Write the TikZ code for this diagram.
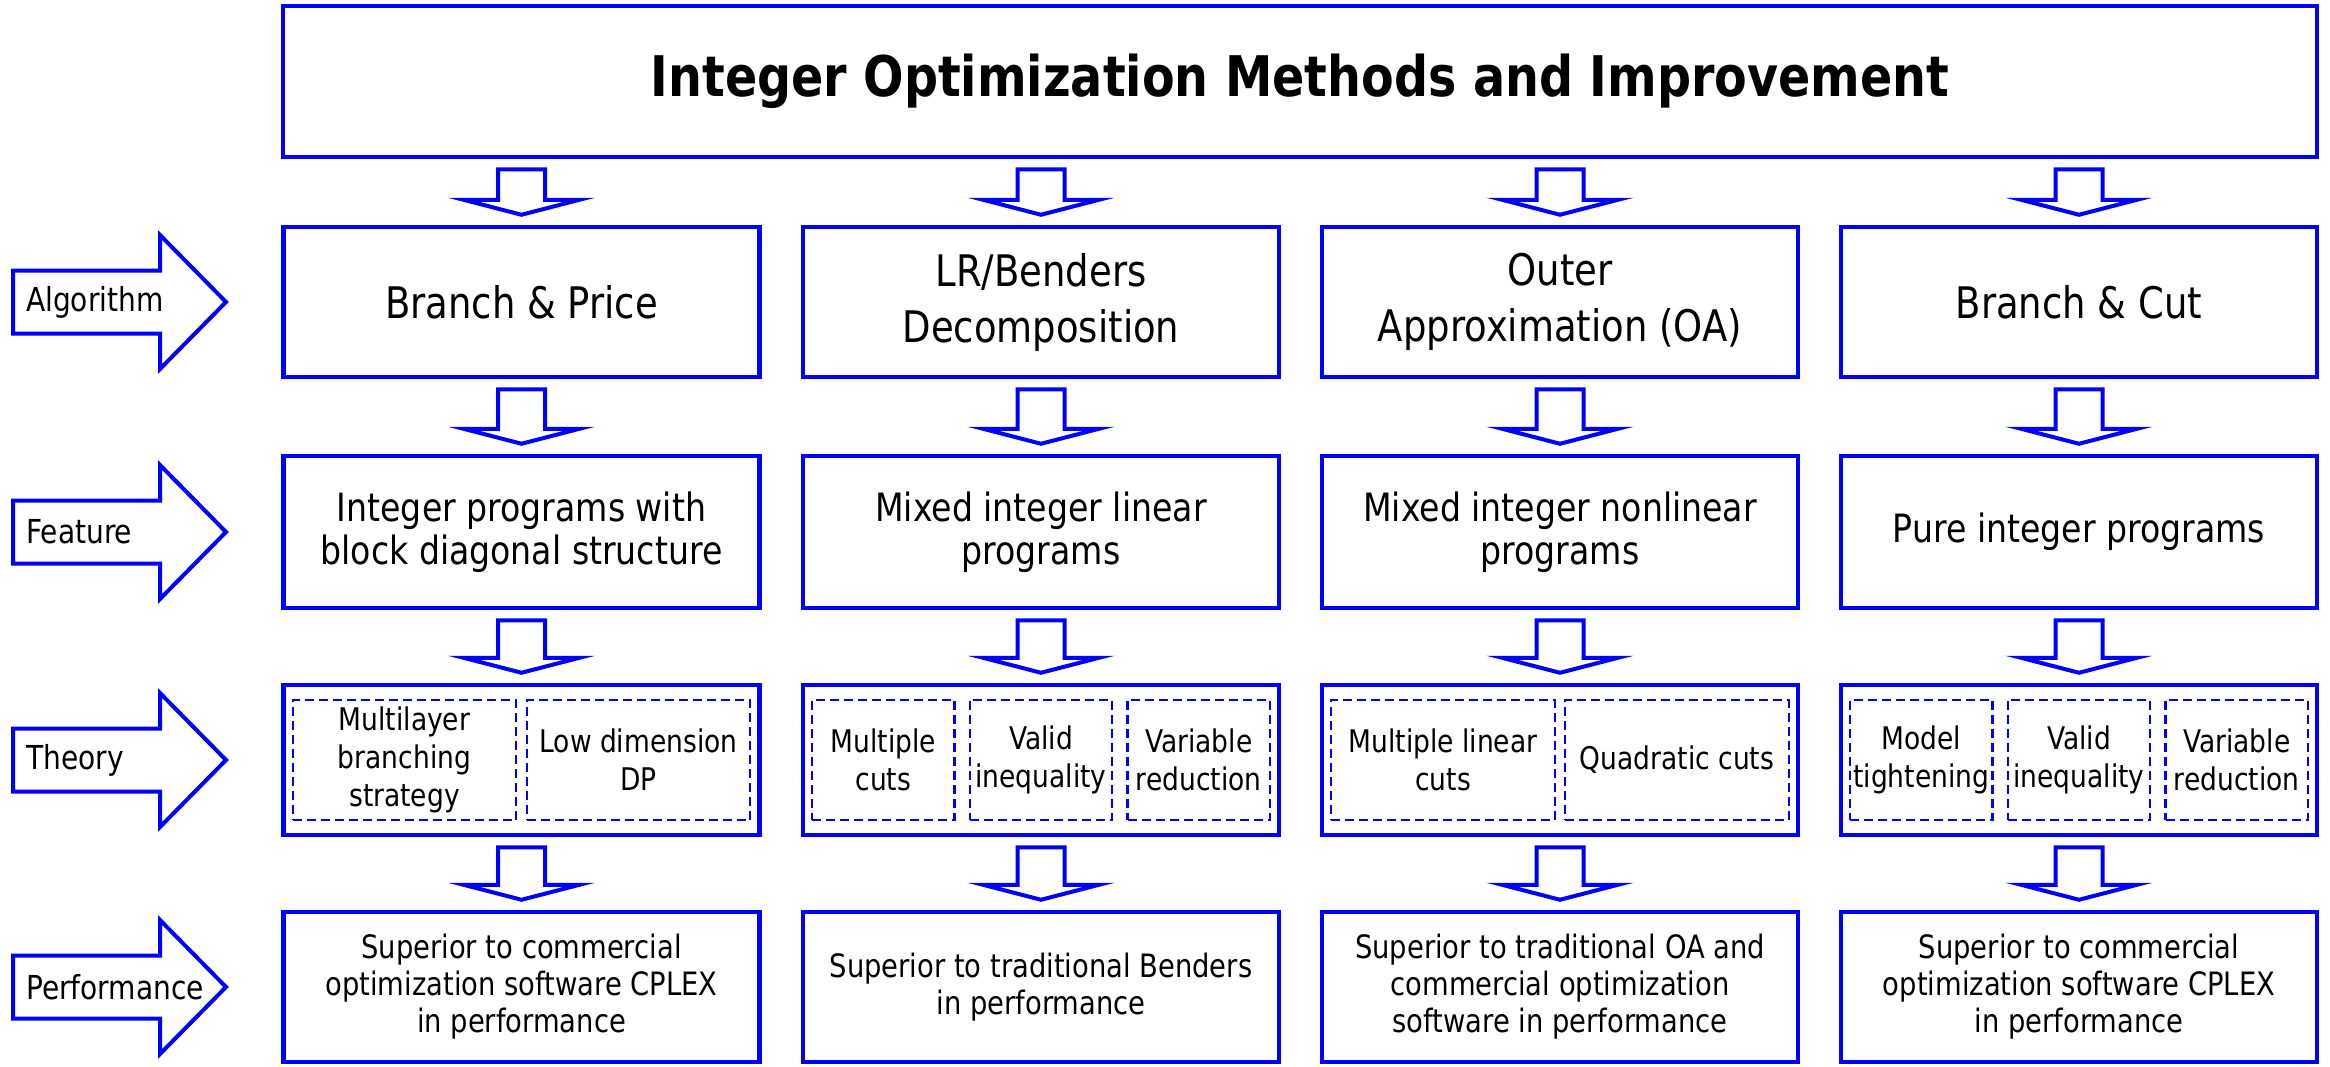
\documentclass[tikz,border=0pt]{standalone}
\usepackage{fontspec}
\setmainfont{DejaVu Sans}[FakeStretch=0.85]
\usetikzlibrary{calc}

\tikzset{
  box/.style={draw=blue, line width=4.5pt, fill=white, align=center, inner sep=0pt,
    minimum width=476pt, minimum height=150pt},
  subbox/.style={draw=blue, line width=2.2pt, dash pattern=on 9pt off 5pt,
    align=center, inner sep=0pt, minimum height=120pt},
  barrow/.style={draw=blue, line width=4pt, fill=white, line join=miter},
  sidelabel/.style={anchor=west, inner sep=0pt, font=\fontsize{33}{38}\selectfont},
  fAlg/.style={font=\fontsize{43.5}{56}\selectfont},
  fFea/.style={font=\fontsize{39}{43.5}\selectfont},
  fThe/.style={font=\fontsize{31.2}{38}\selectfont},
  fPer/.style={font=\fontsize{32.2}{37}\selectfont},
}

% block arrow pointing down from the bottom of #1 to the top of #2
\newcommand\blockdown[2]{%
  \draw[barrow] let \p1=(#1.south), \p2=(#2.north) in
    (\x2-23.5pt,\y1-10pt) -- (\x2+23.5pt,\y1-10pt) -- (\x2+23.5pt,\y2+25pt)
    -- (\x2+58pt,\y2+25pt) -- (\x2,\y2+10pt) -- (\x2-58pt,\y2+25pt)
    -- (\x2-23.5pt,\y2+25pt) -- cycle;}

% wide arrow on the left margin, centred on row height #1
\newcommand\sidearrow[3]{%
  \draw[barrow] (13,#1-31.5) -- (160,#1-31.5) -- (160,#1-67) -- (226,#1)
    -- (160,#1+67) -- (160,#1+31.5) -- (13,#1+31.5) -- cycle;
  \node[sidelabel] (#2) at (26,#1) {#3};}

\begin{document}
\begin{tikzpicture}[x=1pt, y=-1pt]
\useasboundingbox (0,0) rectangle (2330,1066);

% title
\node[box, minimum width=2034pt, minimum height=151pt,
  font=\bfseries\fontsize{56}{62}\selectfont] (title) at (1300,81.5)
  {Integer Optimization Methods and Improvement};

% algorithm row
\node[box, fAlg] (a1) at (521.5,302) {Branch \& Price};
\node[box, fAlg] (a2) at (1041,302) {LR/Benders\\Decomposition};
\node[box, fAlg] (a3) at (1560,302) {Outer\\Approximation (OA)};
\node[box, fAlg] (a4) at (2079,302) {Branch \& Cut};

% feature row
\node[box, fFea, minimum height=152pt] (f1) at (521.5,532) {Integer programs with\\block diagonal structure};
\node[box, fFea, minimum height=152pt] (f2) at (1041,532) {Mixed integer linear\\programs};
\node[box, fFea, minimum height=152pt] (f3) at (1560,532) {Mixed integer nonlinear\\programs};
\node[box, fFea, minimum height=152pt] (f4) at (2079,532) {Pure integer programs};

% theory row
\node[box] (t1) at (521.5,760) {};
\node[box] (t2) at (1041,760) {};
\node[box] (t3) at (1560,760) {};
\node[box] (t4) at (2079,760) {};

\node[subbox, fThe, minimum width=223.5pt] (t1a) at (404.5,760) {Multilayer\\branching\\strategy};
\node[subbox, fThe, minimum width=223.5pt] (t1b) at (638.5,760) {Low dimension\\DP};

\node[subbox, fThe, minimum width=142.3pt] (t2a) at (883.3,760) {Multiple\\cuts};
\node[subbox, fThe, minimum width=142.3pt] (t2b) at (1041,760) {Valid\\inequality};
\node[subbox, fThe, minimum width=142.3pt] (t2c) at (1198.7,760) {Variable\\reduction};

\node[subbox, fThe, minimum width=223.5pt] (t3a) at (1443,760) {Multiple linear\\cuts};
\node[subbox, fThe, minimum width=223.5pt] (t3b) at (1677,760) {Quadratic cuts};

\node[subbox, fThe, minimum width=142.3pt] (t4a) at (1921.3,760) {Model\\tightening};
\node[subbox, fThe, minimum width=142.3pt] (t4b) at (2079,760) {Valid\\inequality};
\node[subbox, fThe, minimum width=142.3pt] (t4c) at (2236.7,760) {Variable\\reduction};

% performance row
\node[box, fPer] (p1) at (521.5,987) {Superior to commercial\\optimization software CPLEX\\in performance};
\node[box, fPer] (p2) at (1041,987) {Superior to traditional Benders\\in performance};
\node[box, fPer] (p3) at (1560,987) {Superior to traditional OA and\\commercial optimization\\software in performance};
\node[box, fPer] (p4) at (2079,987) {Superior to commercial\\optimization software CPLEX\\in performance};

% arrows between rows
\foreach \c in {1,2,3,4} {
  \blockdown{title}{a\c}
  \blockdown{a\c}{f\c}
  \blockdown{f\c}{t\c}
  \blockdown{t\c}{p\c}
}

% row labels
\sidearrow{302}{lalg}{Algorithm}
\sidearrow{532}{lfea}{Feature}
\sidearrow{760}{lthe}{Theory}
\sidearrow{987}{lper}{Performance}
\end{tikzpicture}
\end{document}
